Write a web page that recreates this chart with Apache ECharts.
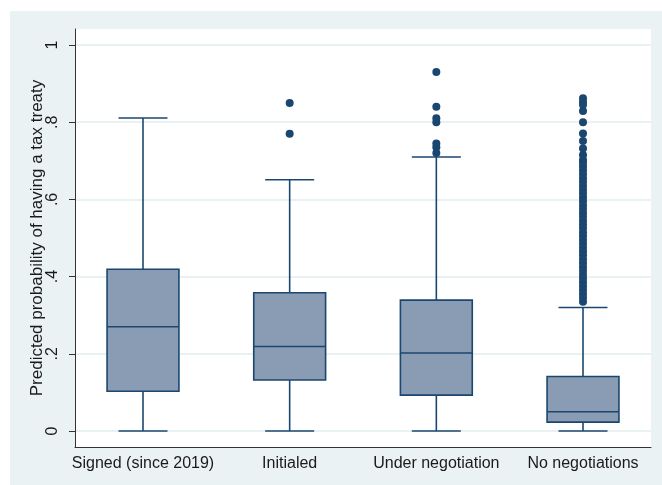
<!DOCTYPE html>
<html lang="en">
<head>
    <meta charset="utf-8">
    <script src="https://cdn.jsdelivr.net/npm/echarts@6/dist/echarts.min.js"></script>
    <style>
        html,body{margin:0;padding:0;background:#fff;width:662px;height:485px;overflow:hidden;}
        #chart{position:absolute;left:10px;top:11px;width:652px;height:474px;}
    </style>
</head>
<body>
<div id="chart"></div>
<script>
    // categories on the x axis
    var categories = ['Signed (since 2019)', 'Initialed', 'Under negotiation', 'No negotiations'];
    // box statistics
    var lowerWhisker = [0, 0, 0, 0];
    var q1 = [0.103, 0.132, 0.093, 0.023];
    var median = [0.27, 0.219, 0.202, 0.05];
    var q3 = [0.419, 0.358, 0.339, 0.141];
    var upperWhisker = [0.811, 0.651, 0.71, 0.32];
    // outside values per group
    var outliersSigned = [];
    var outliersInitialed = [0.77, 0.85];
    var outliersUnder = [0.72, 0.735, 0.745, 0.80, 0.81, 0.84, 0.93];
    var outliersNone = [0.335, 0.345, 0.355, 0.365, 0.375, 0.385, 0.395, 0.405, 0.415, 0.425,
        0.435, 0.445, 0.455, 0.465, 0.475, 0.485, 0.495, 0.505, 0.515, 0.525,
        0.535, 0.545, 0.555, 0.565, 0.575, 0.585, 0.595, 0.605, 0.615, 0.625,
        0.635, 0.645, 0.655, 0.665, 0.675, 0.685, 0.695, 0.702, 0.715, 0.732,
        0.751, 0.771, 0.80, 0.829, 0.845, 0.853, 0.862];
    var yTicks = [0, 0.2, 0.4, 0.6, 0.8, 1];

    var navy = '#1a476f';
    var boxFill = '#8a9cb4';
    var boxWidth = 0.49;   // in category units
    var capWidth = 0.334;

    var boxData = categories.map(function (c, i) {
        return [i, lowerWhisker[i], q1[i], median[i], q3[i], upperWhisker[i]];
    });
    var outlierData = [];
    [outliersSigned, outliersInitialed, outliersUnder, outliersNone].forEach(function (arr, i) {
        arr.forEach(function (v) { outlierData.push([i, v]); });
    });

    function renderBox(params, api) {
        var x = api.value(0);
        var lo = api.coord([x, api.value(1)]);
        var b1 = api.coord([x, api.value(2)]);
        var md = api.coord([x, api.value(3)]);
        var b3 = api.coord([x, api.value(4)]);
        var hi = api.coord([x, api.value(5)]);
        var bw = api.size([boxWidth, 0])[0];
        var cw = api.size([capWidth, 0])[0];
        var cx = md[0];
        var ls = {stroke: navy, lineWidth: 1.6};
        return {
            type: 'group',
            children: [
                {type: 'line', shape: {x1: cx, y1: hi[1], x2: cx, y2: b3[1]}, style: ls},
                {type: 'line', shape: {x1: cx, y1: b1[1], x2: cx, y2: lo[1]}, style: ls},
                {type: 'line', shape: {x1: cx - cw / 2, y1: hi[1], x2: cx + cw / 2, y2: hi[1]}, style: ls},
                {type: 'line', shape: {x1: cx - cw / 2, y1: lo[1], x2: cx + cw / 2, y2: lo[1]}, style: ls},
                {type: 'rect', shape: {x: cx - bw / 2, y: b3[1], width: bw, height: b1[1] - b3[1]},
                    style: {fill: boxFill, stroke: navy, lineWidth: 1.6}},
                {type: 'line', shape: {x1: cx - bw / 2, y1: md[1], x2: cx + bw / 2, y2: md[1]}, style: ls}
            ]
        };
    }

    var chart = echarts.init(document.getElementById('chart'));
    var font = '"Liberation Sans", Arial, sans-serif';
    chart.setOption({
        backgroundColor: '#eaf2f3',
        animation: false,
        grid: {
            left: 65, top: 18, right: 11, bottom: 38,
            show: true, backgroundColor: '#fff', borderWidth: 0,
            outerBoundsMode: 'none'
        },
        xAxis: {
            type: 'value',
            min: -0.4636,
            max: 3.4636,
            axisLine: {show: true, onZero: false, lineStyle: {color: '#333', width: 1}},
            axisTick: {show: false},
            splitLine: {show: false},
            axisLabel: {
                customValues: [0, 1, 2, 3],
                formatter: function (v) { return categories[Math.round(v)]; },
                color: '#1a1a1a', fontSize: 16, fontFamily: font, margin: 9
            }
        },
        yAxis: {
            type: 'value',
            min: -0.0415,
            max: 1.0415,
            name: 'Predicted probability of having a tax treaty',
            nameLocation: 'middle',
            nameGap: 29,
            nameMoveOverlap: false,
            nameTextStyle: {color: '#1a1a1a', fontSize: 17, fontFamily: font},
            axisLine: {show: true, onZero: false, lineStyle: {color: '#333', width: 1}},
            axisTick: {show: true, customValues: yTicks, length: 6, lineStyle: {color: '#333'}},
            splitLine: {show: true, lineStyle: {color: '#e3ecef', width: 1.5}},
            axisLabel: {
                customValues: yTicks,
                rotate: 90,
                margin: 14,
                formatter: function (v) {
                    if (v === 0) return '0';
                    if (v === 1) return '1';
                    return String(+v.toFixed(1)).replace('0.', '.');
                },
                color: '#1a1a1a', fontSize: 16, fontFamily: font
            }
        },
        series: [
            {
                type: 'custom',
                renderItem: renderBox,
                encode: {x: 0, y: [1, 2, 3, 4, 5]},
                data: boxData,
                z: 2
            },
            {
                type: 'scatter',
                data: outlierData,
                symbolSize: 8,
                itemStyle: {color: navy, opacity: 1},
                z: 3
            }
        ]
    });
</script>
</body>
</html>
